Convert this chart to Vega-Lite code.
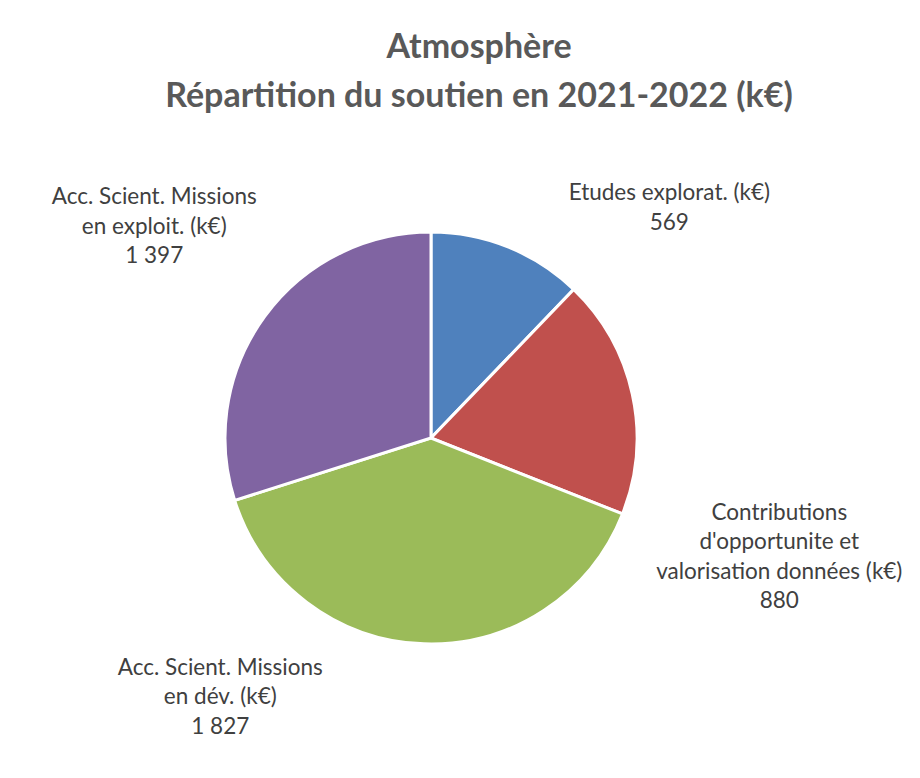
{
  "$schema": "https://vega.github.io/schema/vega-lite/v6.json",
  "width": 862,
  "height": 616,
  "autosize": "none",
  "padding": {"left": 0, "top": 130, "right": 58, "bottom": 32},
  "background": "white",
  "config": {
    "view": {"stroke": null},
    "locale": {"number": {"decimal": ",", "thousands": " ", "grouping": [3], "currency": ["", " €"]}}
  },
  "title": {
    "text": ["Atmosphère", "Répartition du soutien en 2021-2022 (k€)"],
    "font": "Lato",
    "fontSize": 34,
    "fontWeight": "bold",
    "color": "#595959",
    "lineHeight": 49,
    "anchor": "middle",
    "dx": 48,
    "offset": 16
  },
  "data": {
    "values": [
      {"categorie": "Etudes explorat. (k€)", "valeur": 569, "ordre": 1},
      {"categorie": "Contributions\nd'opportunite et\nvalorisation données (k€)", "valeur": 880, "ordre": 2},
      {"categorie": "Acc. Scient. Missions\nen dév. (k€)", "valeur": 1827, "ordre": 3},
      {"categorie": "Acc. Scient. Missions\nen exploit. (k€)", "valeur": 1397, "ordre": 4}
    ]
  },
  "transform": [
    {"calculate": "datum.categorie + '\\n' + format(datum.valeur, ',')", "as": "etiquette"}
  ],
  "encoding": {
    "theta": {"field": "valeur", "type": "quantitative", "stack": true},
    "order": {"field": "ordre", "type": "quantitative"}
  },
  "layer": [
    {
      "mark": {"type": "arc", "outerRadius": 206, "stroke": "white", "strokeWidth": 3},
      "encoding": {
        "color": {
          "field": "categorie",
          "type": "nominal",
          "scale": {
            "domain": [
              "Etudes explorat. (k€)",
              "Contributions\nd'opportunite et\nvalorisation données (k€)",
              "Acc. Scient. Missions\nen dév. (k€)",
              "Acc. Scient. Missions\nen exploit. (k€)"
            ],
            "range": ["#4F81BD", "#C0504D", "#9BBB59", "#8064A2"]
          },
          "legend": null
        }
      }
    },
    {
      "mark": {
        "type": "text",
        "radius": 250,
        "font": "Lato",
        "fontSize": 22.5,
        "color": "#404040",
        "lineBreak": "\n",
        "lineHeight": 29.5,
        "align": "center",
        "baseline": "middle",
        "dx": {"expr": "datum.ordre == 1 ? 145 : datum.ordre == 2 ? 104 : datum.ordre == 3 ? -202 : -75"},
        "dy": {"expr": "datum.ordre == 1 ? -13 : datum.ordre == 2 ? 128 : datum.ordre == 3 ? -20 : -93"}
      },
      "encoding": {
        "detail": {"field": "categorie", "type": "nominal"},
        "text": {"field": "etiquette", "type": "nominal"}
      }
    }
  ]
}
